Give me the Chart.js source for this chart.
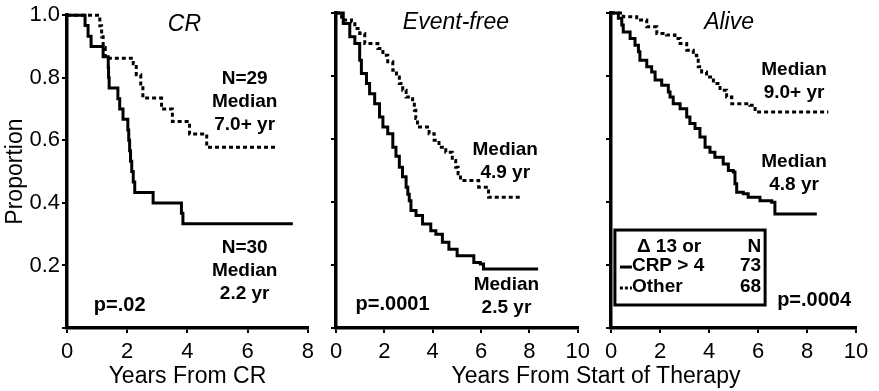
<!DOCTYPE html>
<html>
<head>
<meta charset="utf-8">
<script src="https://cdn.jsdelivr.net/npm/chart.js@4.4.0/dist/chart.umd.min.js"></script>
<style>
  body { margin: 0; background: #fff; }
  #wrap { position: relative; width: 879px; height: 391px; overflow: hidden; background: #fff; }
  canvas { position: absolute; top: 0; }
  #c1 { left: 0; }
  #c2 { left: 320px; }
  #c3 { left: 596px; }
  .xtitle {
    position: absolute; left: 446px; top: 362px; width: 300px;
    text-align: center; line-height: 28px; color: #000;
    font: 23px "Liberation Sans", Arial, Helvetica, sans-serif;
  }
</style>
</head>
<body>
<div id="wrap">
  <canvas id="c1" width="320" height="391"></canvas>
  <canvas id="c2" width="276" height="391"></canvas>
  <canvas id="c3" width="283" height="391"></canvas>
  <div class="xtitle">Years From Start of Therapy</div>
</div>
<script>
// Kaplan-Meier curves: solid = "Δ 13 or CRP > 4", dotted = "Other"
const yTickLabels = ['', '0.2', '0.4', '0.6', '0.8', '1.0'];

// CR panel
const crDelT = [0, 0.6, 0.7, 0.8, 1.2, 1.37, 1.38, 1.4, 1.69, 1.75, 1.86, 2.02, 2.05, 2.08, 2.11, 2.15, 2.2, 2.25, 2.86, 3.8, 3.85, 7.5];
const crDelS = [1.0, 0.967, 0.933, 0.9, 0.867, 0.833, 0.8, 0.767, 0.733, 0.7, 0.667, 0.633, 0.6, 0.567, 0.533, 0.5, 0.467, 0.433, 0.4, 0.367, 0.333, 0.333];
const crOtherT = [0, 1.09, 1.15, 1.2, 1.27, 2.2, 2.3, 2.45, 2.52, 3.14, 3.5, 4.07, 4.64, 6.95];
const crOtherS = [1.0, 0.966, 0.931, 0.897, 0.862, 0.845, 0.81, 0.78, 0.735, 0.70, 0.66, 0.62, 0.578, 0.578];

// Event-free panel
const efDelT = [0, 0.3, 0.57, 0.78, 0.98, 1.05, 1.26, 1.39, 1.6, 1.8, 1.94, 2.14, 2.35, 2.48, 2.62, 2.75, 2.9, 2.97, 3.03, 3.1, 3.31, 3.58, 3.92, 4.13, 4.4, 4.67, 5.01, 5.7, 5.97, 6.1, 8.36];
const efDelS = [1.0, 0.967, 0.925, 0.903, 0.85, 0.808, 0.776, 0.744, 0.712, 0.67, 0.638, 0.617, 0.574, 0.545, 0.51, 0.48, 0.447, 0.425, 0.404, 0.373, 0.357, 0.33, 0.309, 0.298, 0.272, 0.25, 0.229, 0.208, 0.203, 0.187, 0.187];
const efOtherT = [0, 0.23, 0.64, 0.78, 0.98, 1.19, 1.73, 1.94, 2.14, 2.35, 2.5, 2.62, 2.76, 2.9, 3.17, 3.24, 3.3, 3.37, 3.85, 4.06, 4.26, 4.54, 4.81, 4.95, 5.05, 5.15, 5.9, 6.31, 7.6];
const efOtherS = [1.0, 0.978, 0.972, 0.951, 0.935, 0.903, 0.887, 0.866, 0.845, 0.818, 0.797, 0.776, 0.755, 0.733, 0.717, 0.691, 0.665, 0.638, 0.617, 0.596, 0.574, 0.558, 0.532, 0.51, 0.49, 0.468, 0.447, 0.415, 0.41];

// Alive panel
const alDelT = [0, 0.3, 0.44, 0.5, 0.78, 0.98, 1.12, 1.18, 1.46, 1.66, 1.8, 2.07, 2.34, 2.41, 2.54, 2.82, 3.09, 3.22, 3.43, 3.63, 3.84, 4.04, 4.24, 4.58, 4.79, 4.99, 5.06, 5.13, 5.4, 5.6, 6.08, 6.56, 6.69, 8.4];
const alDelS = [1.0, 0.983, 0.962, 0.94, 0.919, 0.898, 0.877, 0.85, 0.829, 0.813, 0.787, 0.771, 0.749, 0.733, 0.712, 0.696, 0.67, 0.649, 0.633, 0.606, 0.574, 0.558, 0.542, 0.521, 0.5, 0.495, 0.458, 0.431, 0.426, 0.415, 0.404, 0.399, 0.362, 0.362];
const alOtherT = [0, 0.5, 1.05, 1.46, 1.87, 2.27, 2.61, 2.82, 3.09, 3.36, 3.5, 3.56, 3.7, 3.9, 4.18, 4.45, 4.72, 4.93, 5.67, 5.88, 8.87];
const alOtherS = [1.0, 0.988, 0.978, 0.956, 0.935, 0.93, 0.919, 0.903, 0.882, 0.866, 0.856, 0.829, 0.813, 0.797, 0.776, 0.755, 0.733, 0.712, 0.707, 0.686, 0.686];

const FONT = '"Liberation Sans", Arial, Helvetica, sans-serif';

const toPoints = (ts, ss) => ts.map((t, i) => ({ x: t, y: ss[i] }));

// draws panel title, median/p-value notes and (panel 3) the legend box
const textPlugin = {
    id: 'panelText',
    afterDatasetsDraw(chart, args, opts) {
        const { ctx, scales: { x, y } } = chart;
        ctx.save();
        ctx.fillStyle = '#000';
        ctx.textBaseline = 'middle';
        ctx.textAlign = 'center';

        if (opts.title) {
            ctx.font = 'italic 23px ' + FONT;
            ctx.fillText(opts.title.text, x.getPixelForValue(opts.title.x), y.getPixelForValue(opts.title.y));
        }

        (opts.notes || []).forEach(n => {
            ctx.font = 'bold ' + (n.size || 19) + 'px ' + FONT;
            const px = x.getPixelForValue(n.x);
            const py = y.getPixelForValue(n.y);
            n.lines.forEach((line, i) => ctx.fillText(line, px, py + i * 23));
        });

        const lg = opts.legend;
        if (lg) {
            const l = x.getPixelForValue(lg.left), r = x.getPixelForValue(lg.right);
            const t = y.getPixelForValue(lg.top), b = y.getPixelForValue(lg.bottom);
            ctx.fillStyle = '#fff';
            ctx.fillRect(l, t, r - l, b - t);
            ctx.strokeStyle = '#000';
            ctx.lineWidth = 3;
            ctx.strokeRect(l, t, r - l, b - t);

            ctx.fillStyle = '#000';
            ctx.font = 'bold 19px ' + FONT;
            const rows = [t + 17, t + 36, t + 57];
            ctx.textAlign = 'left';
            ctx.fillText(lg.header, l + 22, rows[0]);
            ctx.fillText(lg.labels[0], l + 17, rows[1]);
            ctx.fillText(lg.labels[1], l + 17, rows[2]);
            ctx.textAlign = 'right';
            ctx.fillText('N', r - 4, rows[0]);
            ctx.fillText(lg.counts[0], r - 4, rows[1]);
            ctx.fillText(lg.counts[1], r - 4, rows[2]);

            ctx.lineWidth = 3;
            ctx.beginPath();
            ctx.moveTo(l + 5, rows[1] + 1);
            ctx.lineTo(l + 17, rows[1] + 1);
            ctx.stroke();
            ctx.setLineDash([3, 2]);
            ctx.beginPath();
            ctx.moveTo(l + 5, rows[2] + 1);
            ctx.lineTo(l + 17, rows[2] + 1);
            ctx.stroke();
        }
        ctx.restore();
    }
};

const makePanel = (id, p) => {
    const ctx = document.getElementById(id).getContext('2d');
    return new Chart(ctx, {
        type: 'line',
        data: {
            datasets: [
                {
                    data: toPoints(p.delT, p.delS),
                    borderColor: '#000', borderWidth: 3,
                    stepped: true, pointRadius: 0, fill: false, clip: false
                },
                {
                    data: toPoints(p.otherT, p.otherS),
                    borderColor: '#000', borderWidth: 3, borderDash: [4, 3],
                    stepped: true, pointRadius: 0, fill: false, clip: false
                }
            ]
        },
        options: {
            responsive: false,
            animation: false,
            events: [],
            layout: { autoPadding: false, padding: { top: 13, right: p.padRight, left: 0, bottom: 0 } },
            plugins: {
                legend: { display: false },
                tooltip: { enabled: false },
                panelText: { title: p.title, notes: p.notes, legend: p.legend }
            },
            scales: {
                x: {
                    type: 'linear', min: 0, max: p.xMax,
                    afterFit: s => { s.height = 63; },
                    ticks: { stepSize: 2, color: '#000', padding: 6, font: { family: FONT, size: 22 } },
                    grid: { drawOnChartArea: false, drawTicks: true, tickLength: 5, color: '#000', lineWidth: 2 },
                    border: { display: true, color: '#000', width: 3.5 },
                    title: {
                        display: !!p.xTitle, text: p.xTitle, color: '#000',
                        padding: { top: 0, bottom: 1 }, font: { family: FONT, size: 23 }
                    }
                },
                y: {
                    min: 0, max: 1,
                    afterFit: s => { s.width = p.yWidth; },
                    ticks: {
                        display: p.yLabels, stepSize: 0.2, color: '#000', padding: 2,
                        font: { family: FONT, size: 22 },
                        callback: (v, i) => yTickLabels[i]
                    },
                    grid: { drawOnChartArea: false, drawTicks: true, tickLength: 5, color: '#000', lineWidth: 2 },
                    border: { display: true, color: '#000', width: 3.5 },
                    title: {
                        display: p.yLabels, text: 'Proportion', color: '#000',
                        padding: { top: 2, bottom: 0 }, font: { family: FONT, size: 23 }
                    }
                }
            }
        },
        plugins: [textPlugin]
    });
};

document.addEventListener('DOMContentLoaded', () => {
    makePanel('c1', {
        delT: crDelT, delS: crDelS, otherT: crOtherT, otherS: crOtherS,
        xMax: 8, yWidth: 67, padRight: 12, yLabels: true, xTitle: 'Years From CR',
        title: { text: 'CR', x: 3.9, y: 0.971 },
        notes: [
            { x: 5.9, y: 0.797, lines: ['N=29', 'Median', '7.0+ yr'] },
            { x: 5.9, y: 0.257, lines: ['N=30', 'Median', '2.2 yr'] },
            { x: 1.75, y: 0.073, lines: ['p=.02'], size: 20 }
        ]
    });

    makePanel('c2', {
        delT: efDelT, delS: efDelS, otherT: efOtherT, otherS: efOtherS,
        xMax: 10, yWidth: 16, padRight: 16, yLabels: false, xTitle: '',
        title: { text: 'Event-free', x: 4.96, y: 0.971 },
        notes: [
            { x: 7.0, y: 0.565, lines: ['Median', '4.9 yr'] },
            { x: 7.05, y: 0.137, lines: ['Median', '2.5 yr'] },
            { x: 2.34, y: 0.076, lines: ['p=.0001'], size: 20 }
        ]
    });

    makePanel('c3', {
        delT: alDelT, delS: alDelS, otherT: alOtherT, otherS: alOtherS,
        xMax: 10, yWidth: 15, padRight: 23, yLabels: false, xTitle: '',
        title: { text: 'Alive', x: 4.82, y: 0.971 },
        notes: [
            { x: 7.47, y: 0.819, lines: ['Median', '9.0+ yr'] },
            { x: 7.47, y: 0.527, lines: ['Median', '4.8 yr'] },
            { x: 8.29, y: 0.086, lines: ['p=.0004'], size: 20 }
        ],
        legend: {
            left: 0.16, right: 6.29, top: 0.311, bottom: 0.073,
            header: 'Δ 13 or', labels: ['CRP > 4', 'Other'], counts: ['73', '68']
        }
    });
});
</script>
</body>
</html>
